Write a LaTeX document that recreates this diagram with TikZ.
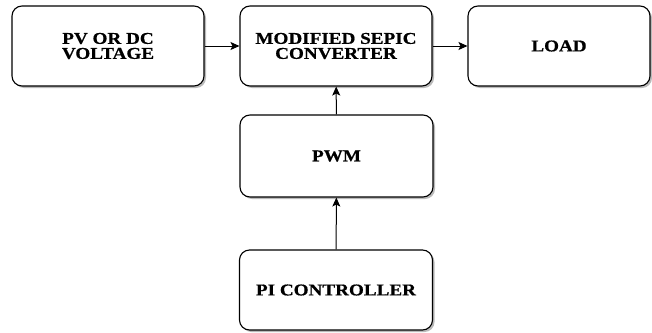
\documentclass[tikz,border=0pt]{standalone}
\usepackage{fontspec}
\setmainfont{Liberation Serif}
\usetikzlibrary{shadows,arrows.meta}
\begin{document}
\begin{tikzpicture}[x=1pt,y=-1pt,
  block/.style={draw=black, line width=1.1pt, rounded corners=10pt, fill=white,
    drop shadow={shadow xshift=2pt, shadow yshift=-2pt, fill=black!45, opacity=0.6},
    font=\fontsize{16.5}{15}\selectfont\bfseries\addfontfeature{FakeStretch=1.16,FakeBold=0.6},
    align=center, inner sep=0pt},
  link/.style={line width=1pt, -{Stealth[length=9pt,width=8pt,inset=2pt]}}]
\useasboundingbox (0,0) rectangle (652,332);
\node[block, minimum width=192pt, minimum height=80pt] (src) at (108,46) {PV OR DC\\VOLTAGE};
\node[block, minimum width=192pt, minimum height=80pt] (conv) at (336,46) {MODIFIED SEPIC\\CONVERTER};
\node[block, minimum width=182pt, minimum height=80pt] (load) at (559,46) {LOAD};
\node[block, minimum width=193pt, minimum height=82pt] (pwm) at (336.5,156) {PWM};
\node[block, minimum width=193pt, minimum height=80pt] (pi) at (336,290) {PI CONTROLLER};
\draw[link] (src) -- (conv);
\draw[link] (conv) -- (load);
\draw[link] (pwm) -- (conv);
\draw[link] (pi) -- (pwm);
\end{tikzpicture}
\end{document}
